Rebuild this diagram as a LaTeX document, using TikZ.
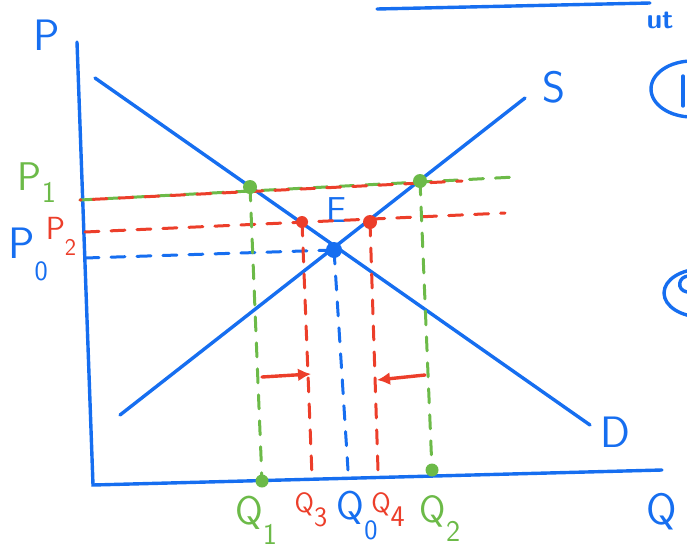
\documentclass[tikz,border=0pt]{standalone}
\usepackage{xcolor}
\usetikzlibrary{arrows.meta,calc}
\definecolor{penblue}{RGB}{22,110,240}
\definecolor{penred}{RGB}{236,62,42}
\definecolor{pengreen}{RGB}{108,186,72}
\newcommand{\lowsub}[2][26]{\raisebox{-0.5em}{\fontsize{#1}{#1}\selectfont #2}}

\begin{document}
\begin{tikzpicture}[>={Latex[length=13pt,width=13pt]},x=1pt,y=-1pt,line cap=round,
    ink/.style={line width=3.4pt},
    guide/.style={line width=3pt,dash pattern=on 14pt off 12pt},
    lbl/.style={font=\sffamily\fontsize{44}{44}\selectfont,inner sep=0pt}]
    \useasboundingbox (0,0) rectangle (687,549);
    \clip (0,0) rectangle (687,549);
    % axes
    \coordinate (ptop) at (77,42);
    \coordinate (origin) at (93,485);
    \coordinate (qend) at (662,470);
    \draw[ink,penblue] (ptop) -- (origin) -- (qend);
    \node[lbl,penblue] (plabel) at (47,35) {P};
    \node[lbl,penblue] (qlabel) at (662,512) {Q};
    % demand and supply
    \coordinate (dtop) at (95,78);
    \coordinate (dbot) at (590,425);
    \coordinate (sbot) at (120,415);
    \coordinate (stop) at (525,98);
    \draw[ink,penblue] (dtop) -- (dbot);
    \draw[ink,penblue] (sbot) -- (stop);
    \node[lbl,penblue] (dlabel) at (615,432) {D};
    \node[lbl,penblue] (slabel) at (554,87) {S};
    % equilibrium
    \coordinate (eq) at (334,250);
    \node[lbl,penblue,font=\sffamily\fontsize{36}{36}\selectfont] (elabel) at (337,210) {E};
    % price lines
    \coordinate (pone) at (80,200);
    \coordinate (poneend) at (515,177);
    \coordinate (ponered) at (462,181);
    \coordinate (ptwo) at (85,232);
    \coordinate (ptwoend) at (505,213);
    \coordinate (pzero) at (85,258);
    \draw[guide,pengreen] (pone) -- (poneend);
    \draw[guide,penred,dash phase=13pt] (pone) -- (ponered);
    \draw[guide,penred] (ptwo) -- (ptwoend);
    \draw[guide,penblue] (pzero) -- (eq);
    \node[lbl,pengreen,font=\sffamily\fontsize{40}{40}\selectfont] (ponelabel) at (37,183)
        {P\raisebox{-0.3em}{\fontsize{30}{30}\selectfont 1}};
    \node[lbl,penred,font=\sffamily\fontsize{32}{32}\selectfont] (ptwolabel) at (61,236) {P\lowsub[24]{2}};
    \node[lbl,penblue] (pzerolabel) at (28,254) {P\lowsub[28]{0}};
    % points on the curves
    \coordinate (gone) at (250,187);
    \coordinate (gtwo) at (420,181);
    \coordinate (rone) at (302,222);
    \coordinate (rtwo) at (370,222);
    \coordinate (qone) at (262,481);
    \coordinate (qtwo) at (432,470);
    \coordinate (qthree) at (312,476);
    \coordinate (qfour) at (378,470);
    \coordinate (qzero) at (348,470);
    % quantity lines
    \draw[guide,pengreen] (gone) -- (qone);
    \draw[guide,pengreen] (gtwo) -- (qtwo);
    \draw[guide,penred] (rone) -- (qthree);
    \draw[guide,penred] (rtwo) -- (qfour);
    \draw[guide,penblue] (eq) -- (qzero);
    \fill[pengreen] (gone) circle (7pt) (gtwo) circle (7pt)
        (qone) circle (6.5pt) (qtwo) circle (6.5pt);
    \fill[penred] (rone) circle (6pt) (rtwo) circle (7pt);
    \fill[penblue] (eq) circle (8pt);
    % shifts
    \coordinate (aleft) at (262,377);
    \coordinate (aleftend) at (311,374);
    \coordinate (aright) at (425,375);
    \coordinate (arightend) at (377,380);
    \draw[ink,penred,->] (aleft) -- (aleftend);
    \draw[ink,penred,->] (aright) -- (arightend);
    % quantity labels
    \node[lbl,pengreen,font=\sffamily\fontsize{40}{40}\selectfont] (qonelabel) at (256,520) {Q\lowsub[30]{1}};
    \node[lbl,penred,font=\sffamily\fontsize{28}{28}\selectfont] (qthreelabel) at (311,510) {Q\lowsub[28]{3}};
    \node[lbl,penblue,font=\sffamily\fontsize{40}{40}\selectfont] (qzerolabel) at (357,516) {Q\lowsub[28]{0}};
    \node[lbl,penred,font=\sffamily\fontsize{28}{28}\selectfont] (qfourlabel) at (388,510) {Q\lowsub[30]{4}};
    \node[lbl,pengreen,font=\sffamily\fontsize{38}{38}\selectfont] (qtwolabel) at (440,518) {Q\lowsub[30]{2}};
    % cut-off notes on the right
    \coordinate (topline) at (377,9);
    \coordinate (toplineend) at (650,3);
    \draw[ink,penblue] (topline) -- (toplineend);
    \node[penblue,font=\sffamily\bfseries\fontsize{28}{28}\selectfont,inner sep=0pt] (note) at (660,20) {ut};
    \draw[ink,penblue] (692,89) ellipse (41pt and 28pt);
    \draw[ink,penblue] (683,76) -- (683,106);
    \draw[ink,penblue] (702,293) ellipse (38pt and 24pt);
    \draw[ink,penblue] (689,276) .. controls (678,276) and (676,290) .. (687,292);
\end{tikzpicture}
\end{document}
